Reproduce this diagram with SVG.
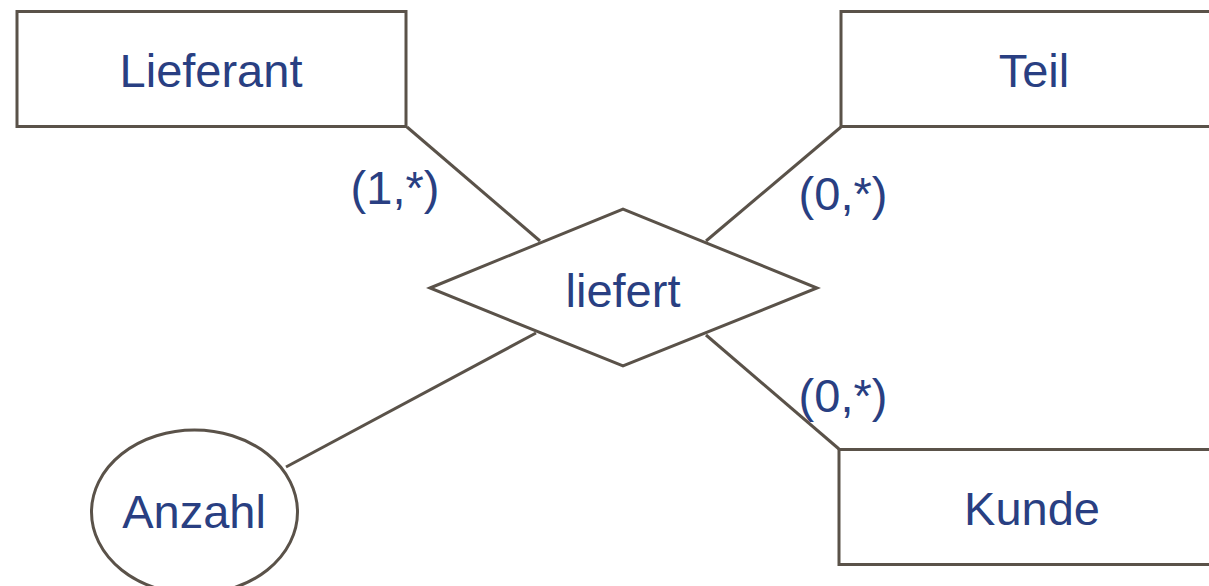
<svg xmlns="http://www.w3.org/2000/svg" width="1209" height="586" viewBox="0 0 1209 586">
<style>
.shape{fill:#ffffff;stroke:#5a5249;stroke-width:3}
.conn{stroke:#5a5249;stroke-width:3;fill:none}
.t{font-family:"Liberation Sans",Arial,sans-serif;font-size:47px;fill:#293f82;text-anchor:middle}
</style>
<rect width="1209" height="586" fill="#ffffff"/>
<g id="connectors">
<line class="conn" x1="407" y1="127" x2="540" y2="241"/>
<line class="conn" x1="841" y1="127" x2="706" y2="241"/>
<line class="conn" x1="706" y1="335" x2="839" y2="449"/>
<line class="conn" x1="536" y1="333" x2="286" y2="467"/>
<text class="t" x="395" y="204">(1,*)</text>
<text class="t" x="843" y="210">(0,*)</text>
<text class="t" x="843" y="412">(0,*)</text>
</g>
<g id="lieferant">
<rect class="shape" x="17" y="11.5" width="389" height="115"/>
<text class="t" x="211" y="87">Lieferant</text>
</g>
<g id="teil">
<rect class="shape" x="841" y="11.5" width="400" height="115"/>
<text class="t" x="1034" y="87">Teil</text>
</g>
<g id="kunde">
<rect class="shape" x="839" y="449.5" width="400" height="115"/>
<text class="t" x="1032" y="525">Kunde</text>
</g>
<g id="liefert">
<polygon class="shape" points="430,288 623,209 817,288 623,366"/>
<text class="t" x="623" y="307">liefert</text>
</g>
<g id="anzahl">
<ellipse class="shape" cx="194.5" cy="512" rx="103" ry="82"/>
<text class="t" x="194" y="528">Anzahl</text>
</g>
</svg>
